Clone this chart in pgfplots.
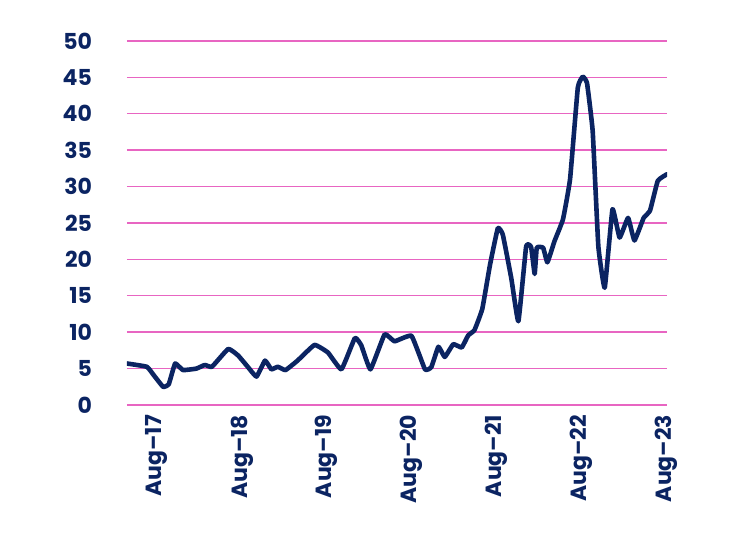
\documentclass[border=0pt]{standalone}
\usepackage{pgfplots}
\pgfplotsset{compat=1.18}
\usepackage{fontspec}
\setmainfont{Poppins}
\definecolor{navy}{HTML}{0B2462}
\definecolor{gridpink}{HTML}{E865C2}
\begin{document}
\begin{tikzpicture}[x=1pt,y=1pt]
\useasboundingbox (-63.5,-67.5) rectangle (311.5,202.5);
\begin{axis}[
    at={(0,0)}, anchor=south west,
    width=270pt, height=182pt, scale only axis,
    xmin=-3.1, xmax=73.2, ymin=0, ymax=50,
    axis line style={draw=none},
    major tick length=0pt,
    ytick={0,5,...,50},
    ymajorgrids=true,
    grid style={gridpink, line width=0.7pt},
    xtick={0,12,24,36,48,60,72},
    xticklabels={Aug--17,Aug--18,Aug--19,Aug--20,Aug--21,Aug--22,Aug--23},
    tick label style={font=\fontsize{11}{13}\selectfont\bfseries, text=navy},
    xticklabel style={rotate=90, anchor=east, yshift=-4pt, xshift=-1.5pt},
    yticklabel style={anchor=east, xshift=-14pt},
    /pgf/number format/assume math mode=true,
]
\addplot[navy, line width=2.3pt, line join=round, line cap=round, smooth, tension=0.2] coordinates {
(-3.1,5.7) (-0.3,5.25) (0.6,4.2) (2,2.5) (2.8,2.85) (3.7,5.7) (4.8,4.8) (6.7,5.0)
(7.9,5.5) (8.9,5.25) (11.2,7.7) (12.6,6.8) (14,5.2) (15.2,3.9) (16.4,6.1) (17.3,4.9)
(18.2,5.25) (19.3,4.8) (21,6.1) (23.4,8.25) (25.3,7.2) (27.2,4.9) (29.1,9.2) (30,8.2)
(31.3,4.9) (33.3,9.7) (34.7,8.75) (37.1,9.5) (39,4.9) (39.9,5.2) (40.9,8.0) (41.8,6.6)
(43,8.35) (44.2,7.9) (45.1,9.55) (46,10.3) (47.1,13.2) (48.2,19.3) (49.3,24.3) (50,23.4)
(51.2,17.4) (52.2,11.5) (53.3,21.8) (54,21.7) (54.5,18.0) (54.8,21.6) (55.7,21.6) (56.3,19.6)
(57.3,22.5) (58.5,25.5) (59.5,31) (60.6,43.6) (61.3,45.1) (61.9,44.2) (62.7,37.6) (63.5,21.8)
(64.4,16.1) (65.5,26.9) (66.5,23.0) (67.7,25.7) (68.6,22.6) (69.9,25.7) (70.8,26.7) (71.9,30.8)
(73.2,31.7)
};
\end{axis}
\end{tikzpicture}
\end{document}
